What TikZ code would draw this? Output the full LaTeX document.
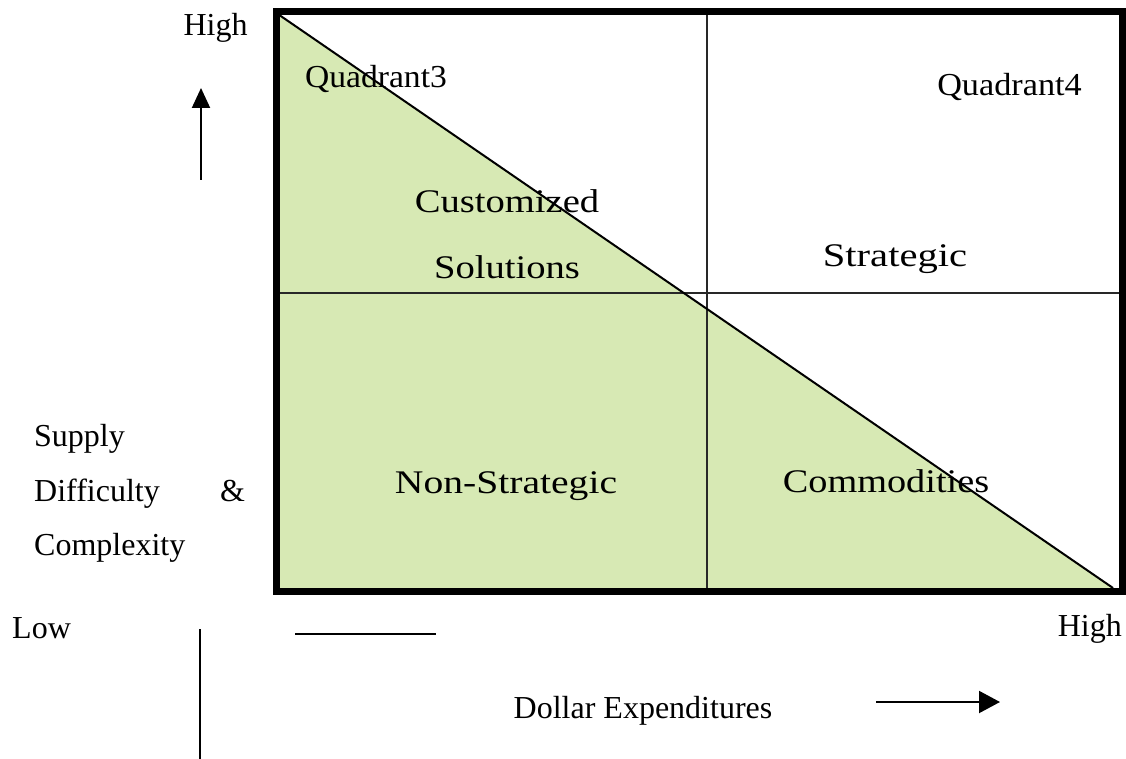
\documentclass[tikz,border=0pt]{standalone}
\usepackage{fontspec}
\setmainfont{Liberation Serif}
\usetikzlibrary{arrows.meta}
\definecolor{leafgreen}{RGB}{215,233,180}
\definecolor{gridgray}{RGB}{40,40,40}
\newcommand{\axisfont}{\fontsize{32}{38}\selectfont}
\newcommand{\quadfont}{\fontsize{32}{38}\selectfont}
\newcommand{\cellfont}{\fontsize{33}{40}\selectfont}
\newcommand{\cell}[2]{\scalebox{#1}[1]{#2}}
\begin{document}
\begin{tikzpicture}[x=1pt,y=-1pt,
  axislabel/.style={inner sep=0pt,font=\axisfont},
  quadlabel/.style={inner sep=0pt,anchor=base,font=\quadfont},
  celllabel/.style={inner sep=0pt,anchor=base,font=\cellfont},
  gridline/.style={draw=gridgray,line width=1.8pt},
  plainline/.style={draw=black,line width=2pt},
  axisarrow/.style 2 args={draw=black,line width=2pt,-{Triangle[length=#1,width=#2]}},
]
\useasboundingbox (0,0) rectangle (1126,759);

% matrix corners and grid points
\coordinate (tl) at (280,15.5);
\coordinate (br) at (1113,588);
\coordinate (bl) at (280,588);
\coordinate (vtop) at (707,15.5);
\coordinate (vbot) at (707,588);
\coordinate (hleft) at (280,293);
\coordinate (hright) at (1119,293);

% shaded lower-left triangle
\fill[leafgreen] (tl) -- (br) -- (bl) -- cycle;

% quadrant dividers
\draw[gridline] (vtop) -- (vbot);
\draw[gridline] (hleft) -- (hright);

% diagonal
\draw[plainline] (tl) -- (br);

% outer frame
\draw[line width=7pt,line join=miter] (276,12) rectangle (1122.5,591.5);

% quadrant texts
\node[quadlabel] (q3) at (376,88) {\scalebox{1.05}[1]{Quadrant3}};
\node[quadlabel] (q4) at (1009.5,96) {\scalebox{1.07}[1]{Quadrant4}};
\node[celllabel] (cust) at (507,213) {\cell{1.17}{Customized}};
\node[celllabel] (sol) at (507,278) {\cell{1.17}{Solutions}};
\node[celllabel] (strat) at (895,266) {\cell{1.23}{Strategic}};
\node[celllabel] (nonstrat) at (506,493) {\cell{1.2}{Non-Strategic}};
\node[celllabel] (comm) at (886,492) {\cell{1.16}{Commodities}};

% vertical axis
\node[axislabel,anchor=base] (yhigh) at (215.5,36) {High};
\coordinate (yarrowfoot) at (201,180);
\coordinate (yarrowtip) at (201,88);
\draw[axisarrow={20pt}{18pt}] (yarrowfoot) -- (yarrowtip);
\node[axislabel,anchor=base west] (supply) at (34,446) {Supply};
\node[axislabel,anchor=base west] (difficulty) at (34,501) {Difficulty};
\node[axislabel,anchor=base west] (amp) at (220,501) {\&};
\node[axislabel,anchor=base west] (complexity) at (34,555) {Complexity};
\node[axislabel,anchor=base west] (low) at (12,638) {Low};

% horizontal axis
\node[axislabel,anchor=base east] (xhigh) at (1122,636) {High};
\node[axislabel,anchor=base] (dollar) at (643,718) {Dollar Expenditures};
\coordinate (xarrowfoot) at (876,702);
\coordinate (xarrowtip) at (1000,702);
\draw[axisarrow={21pt}{22pt}] (xarrowfoot) -- (xarrowtip);

% stray rules below the frame
\coordinate (ruleleft) at (295,634);
\coordinate (ruleright) at (436,634);
\draw[plainline,line width=2.5pt] (ruleleft) -- (ruleright);
\coordinate (stemtop) at (200,629);
\coordinate (stembot) at (200,759);
\draw[plainline] (stemtop) -- (stembot);
\end{tikzpicture}
\end{document}
